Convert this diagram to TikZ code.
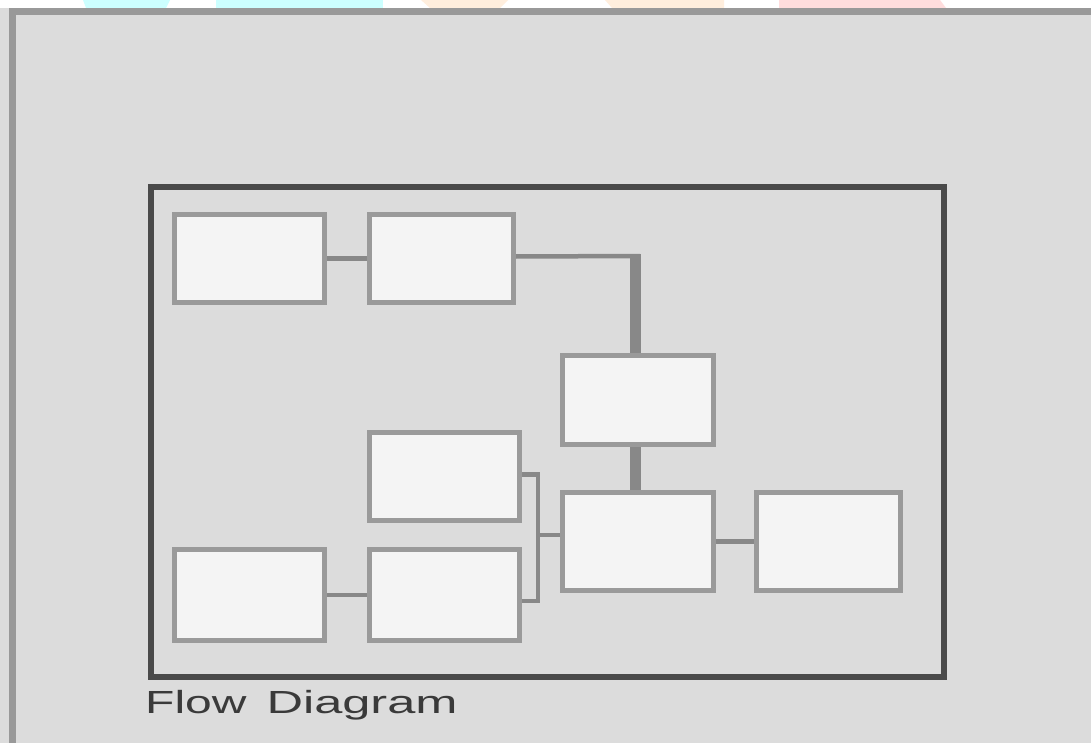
\documentclass[tikz,border=0pt]{standalone}
\usepackage{fontspec}
\setmainfont{Liberation Sans}
\usepackage{graphicx}
\definecolor{bg}{HTML}{DCDCDC}
\definecolor{boxfill}{HTML}{F4F4F4}
\definecolor{boxline}{HTML}{9A9A9A}
\definecolor{conn}{HTML}{888888}
\definecolor{frameline}{HTML}{4A4A4A}
\definecolor{outerline}{HTML}{999999}
\definecolor{capcol}{HTML}{3A3A3A}
\definecolor{wmcyan}{HTML}{CCFFFF}
\definecolor{wmorange}{HTML}{FFEEDD}
\definecolor{wmred}{HTML}{FFDDDD}
\tikzset{
  blk/.style={draw=boxline, fill=boxfill, line width=5pt, inner sep=0pt},
  link/.style={draw=conn, line width=4.5pt},
  thicklink/.style={draw=conn, line width=11pt},
}
\begin{document}
\begin{tikzpicture}[x=1pt,y=-1pt]
\useasboundingbox (0,0) rectangle (1091,743);
% page
\fill[white] (0,0) rectangle (1091,743);
\fill[bg] (0,8) rectangle (1091,743);
% watermark remnants at the top
\fill[wmcyan] (83,0) -- (170,0) -- (166,8) -- (86,8) -- cycle;
\fill[wmcyan] (216,0) -- (383,0) -- (383,8) -- (216,8) -- cycle;
\fill[wmorange] (421,0) -- (508,0) -- (500,8) -- (430,8) -- cycle;
\fill[wmorange] (605,0) -- (724,0) -- (724,8) -- (612,8) -- cycle;
\fill[wmred] (779,0) -- (940,0) -- (946,8) -- (779,8) -- cycle;
% outer edges
\draw[outerline, line width=7pt] (12,743) -- (12,12) -- (1091,12);
% main frame
\node[draw=frameline, line width=6pt, minimum width=793pt, minimum height=490pt, inner sep=0pt] (frame) at (547.5,432) {};
% boxes
\node[blk, minimum width=150pt, minimum height=88pt] (B1) at (249.5,258.5) {};
\node[blk, minimum width=144pt, minimum height=88pt] (B2) at (441.5,258.5) {};
\node[blk, minimum width=151pt, minimum height=89pt] (B3) at (638,400) {};
\node[blk, minimum width=151pt, minimum height=98pt] (B4) at (638,541.5) {};
\node[blk, minimum width=144pt, minimum height=98pt] (B5) at (828.5,541.5) {};
\node[blk, minimum width=150pt, minimum height=91pt] (B6) at (249.5,595) {};
\node[blk, minimum width=150pt, minimum height=91pt] (B7) at (444.5,595) {};
\node[blk, minimum width=150pt, minimum height=88pt] (B8) at (444.5,476.5) {};
% connector points
\coordinate (C1) at (635,256);
\coordinate (J) at (538,535);
% connectors
\draw[link] (B1.east) -- (B2.west);
\draw[link] ([yshift=2pt]B2.east) -- ([xshift=5pt]C1);
\draw[thicklink] ([yshift=2pt]C1) -- (C1 |- B3.north);
\draw[thicklink] (C1 |- B3.south) -- (C1 |- B4.north);
\draw[link] (B4.east) -- (B5.west);
\draw[link] (B6.east) -- (B7.west);
\draw[link] ([yshift=2pt]B8.east) -| (J) |- ([yshift=-6pt]B7.east);
\draw[link] (J) -- (J -| B4.west);
% caption
\node[anchor=base west, inner sep=0pt, text=capcol] (cap) at (145,713)
  {\fontsize{32}{32}\selectfont\scalebox{1.5}[1]{Flow}\hspace{20pt}\scalebox{1.58}[1]{Diagram}};
\end{tikzpicture}
\end{document}
